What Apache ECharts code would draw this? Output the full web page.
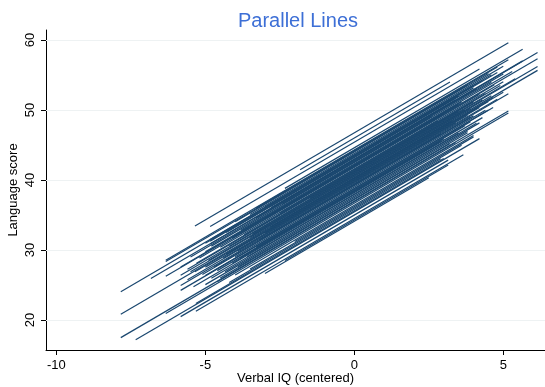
<!DOCTYPE html>
<html>
<head>
<meta charset="utf-8">
<script src="https://cdn.jsdelivr.net/npm/echarts@6/dist/echarts.min.js"></script>
<style>
html,body{margin:0;padding:0;background:#fff;}
#chart{width:545px;height:387px;}
</style>
</head>
<body>
<div id="chart"></div>
<script>
const titleText = "Parallel Lines";
const xName = "Verbal IQ (centered)";
const yName = "Language score";
const xTicks = [-10, -5, 0, 5];
const yTicks = [20, 30, 40, 50, 60];
const xRange = [-10.35, 6.4];
const yRange = [15.71, 61.43];

// one segment per school: start (x,y) and end (x,y)
const xStart = [-5.35,-4.84,-1.82,-2.33,-6.33,-7.84,-6.83,-4.84,-6.33,-5.83,-7.84,-5.83,-5.35,-5.83,-5.83,-3.84,-4.34,-4.5,-7.84,-6.33,-7.34,-5.32,-5.83,-5.32,-2.33,-3.0,-4.84,-4.84,-6.33,
  -4.0,-3.5,-5.0,-4.3,-5.5,-4.8,-3.8,-5.2,-4.5,-3.7,-5.6,-4.2,-4.9,-3.5,-5.0,-4.4,-3.9,-5.1,-4.0,-4.6,-5.4,-3.6,-5.0,-4.6,-4.0,-3.0,-2.5,-2.8,-3.2,-2.8,-3.5,-4.2,-2.0,
  -3.0,-3.3,-5.0,-4.1,-5.3,-3.4,-5.5,-4.3,-3.0,-4.7,-5.0,-3.3,-4.8,-3.9,-2.4,-1.5,-3.3,-5.6,-4.1];
const yStart = [33.43,33.35,41.47,38.8,28.54,24.04,25.94,30.85,26.24,27.58,20.83,26.38,26.88,24.93,24.23,28.84,26.89,25.99,17.48,20.94,17.17,22.35,20.48,21.25,28.5,26.63,31.25,31.5,28.34,
  34.04,35.08,30.95,32.49,29.0,30.55,32.84,28.85,30.39,32.19,27.26,30.54,28.5,31.78,27.55,28.84,29.89,26.5,29.04,27.05,24.75,29.04,25.05,25.45,26.44,34.53,35.27,33.33,31.43,36.03,27.28,25.34,31.22,
  36.13,34.58,29.75,31.69,28.1,32.33,26.9,29.39,32.43,27.6,26.35,30.38,25.95,27.59,36.62,37.36,35.98,25.76,28.09];
const xEnd = [5.17,4.2,3.21,5.65,5.17,4.0,5.65,6.15,6.15,3.5,6.15,6.15,4.66,5.17,4.66,3.0,4.2,3.2,5.17,5.17,4.2,3.0,3.15,3.66,3.15,2.5,3.5,4.3,3.8,
  4.5,5.0,4.8,4.0,5.0,4.6,5.3,4.2,5.0,4.4,4.0,5.4,4.3,3.9,4.5,3.8,4.8,4.0,4.4,3.7,4.3,3.5,3.8,3.4,4.0,3.0,2.8,3.3,2.9,3.4,3.6,2.9,4.0,
  4.6,4.1,3.6,4.7,4.9,3.7,4.6,5.0,4.2,3.9,4.5,3.9,4.1,3.8,2.6,3.5,4.8,3.4,2.9];
const yEnd = [59.62,55.86,53.99,58.67,57.17,53.52,57.02,58.21,57.31,50.82,55.66,56.21,51.8,52.32,50.35,45.87,48.16,45.17,49.87,49.57,45.91,43.07,42.84,43.61,42.14,40.33,52.02,54.26,53.56,
  55.21,56.25,55.35,53.16,55.15,53.95,55.5,52.26,54.05,52.36,51.16,54.45,51.41,50.21,51.21,49.26,51.55,49.16,49.96,47.71,48.91,46.72,46.96,45.37,46.36,49.47,48.47,48.52,46.62,51.47,44.96,43.02,46.16,
  55.05,53.01,51.16,53.6,53.5,50.01,52.05,52.55,50.36,49.01,50.01,48.31,48.11,46.76,49.07,49.82,56.15,48.17,45.52];

const segs = xStart.map((x, i) => ({coords: [[x, yStart[i]], [xEnd[i], yEnd[i]]]}));
const grids = yTicks.map(v => ({coords: [[xRange[0], v], [xRange[1], v]]}));

const font = "'Liberation Sans', Arial, sans-serif";
const chart = echarts.init(document.getElementById('chart'), null, {renderer: 'canvas'});
chart.setOption({
  animation: false,
  backgroundColor: '#ffffff',
  title: {
    text: titleText, left: 293, top: 6, textAlign: 'center',
    textStyle: {color: '#3d6fd6', fontSize: 20, fontWeight: 'normal', fontFamily: font}
  },
  grid: {left: 46, right: 0, top: 30, bottom: 37, containLabel: false, outerBoundsMode: 'none'},
  xAxis: {
    type: 'value', min: xRange[0], max: xRange[1],
    name: xName, nameLocation: 'middle', nameGap: 22, nameMoveOverlap: false,
    nameTextStyle: {color: '#000', fontSize: 13, fontFamily: font},
    axisLine: {show: true, onZero: false, lineStyle: {color: '#000', width: 1}},
    axisTick: {show: true, length: 5, customValues: xTicks, lineStyle: {color: '#000'}},
    axisLabel: {customValues: xTicks, color: '#000', fontSize: 13, fontFamily: font, margin: 9},
    splitLine: {show: false}
  },
  yAxis: {
    type: 'value', min: yRange[0], max: yRange[1],
    name: yName, nameLocation: 'middle', nameGap: 26, nameRotate: 90, nameMoveOverlap: false,
    nameTextStyle: {color: '#000', fontSize: 13, fontFamily: font},
    axisLine: {show: true, onZero: false, lineStyle: {color: '#000', width: 1}},
    axisTick: {show: true, length: 5, customValues: yTicks, lineStyle: {color: '#000'}},
    axisLabel: {customValues: yTicks, rotate: 90, color: '#000', fontSize: 13, fontFamily: font, margin: 9},
    splitLine: {show: false}
  },
  series: [
    {
      type: 'lines', coordinateSystem: 'cartesian2d', silent: true, z: 1,
      lineStyle: {color: '#eef2f3', width: 1, opacity: 1},
      data: grids
    },
    {
      type: 'lines', coordinateSystem: 'cartesian2d', silent: true, z: 2,
      lineStyle: {color: '#1a476f', width: 1.2, opacity: 1},
      data: segs
    }
  ]
});
</script>
</body>
</html>
